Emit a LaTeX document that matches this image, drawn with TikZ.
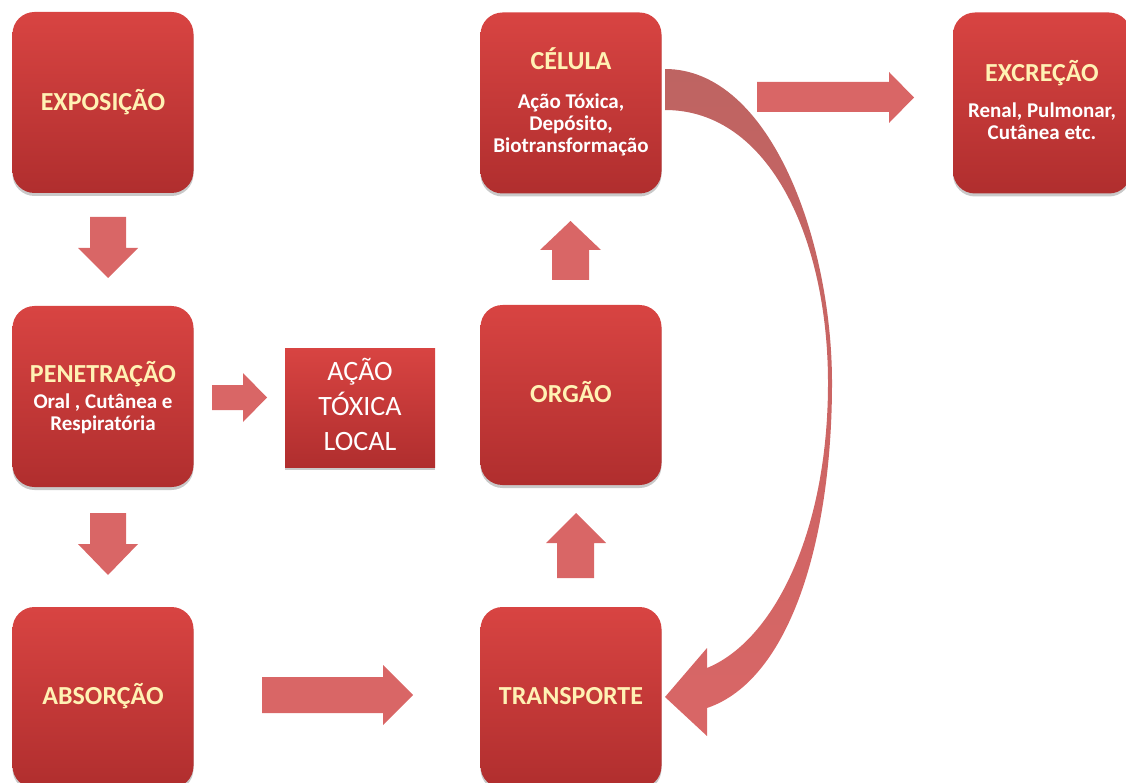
\documentclass[tikz,border=0pt]{standalone}
\usepackage{fontspec}
\setmainfont{Carlito}
\usetikzlibrary{shadows}
\definecolor{boxtop}{RGB}{216,68,66}
\definecolor{boxbot}{RGB}{176,46,46}
\definecolor{arrowred}{RGB}{217,102,102}
\definecolor{curvetop}{RGB}{190,100,98}
\definecolor{headyellow}{RGB}{255,242,180}
\begin{document}
\begin{tikzpicture}[x=1pt,y=-1pt,
  rbox/.style={rounded corners=22pt, minimum width=181pt, minimum height=181pt, inner sep=0pt,
    top color=boxtop, bottom color=boxbot,
    drop shadow={opacity=0.3, shadow xshift=0pt, shadow yshift=-3pt, fill=black!70}},
  sbox/.style={minimum width=150pt, minimum height=119pt, inner sep=0pt,
    top color=boxtop, bottom color=boxbot,
    drop shadow={opacity=0.3, shadow xshift=0pt, shadow yshift=-3pt, fill=black!70}},
  head/.style={font=\fontsize{26}{26}\selectfont\bfseries, text=headyellow, inner sep=0pt, anchor=base},
  subtxt/.style={font=\fontsize{21}{22}\selectfont\bfseries, text=white, inner sep=0pt, anchor=base, align=center},
  localtxt/.style={font=\fontsize{28}{35}\selectfont, text=white, inner sep=0pt, anchor=base, align=center},
  blockarrow/.style={fill=arrowred, draw=none},
  curvearrow/.style={top color=curvetop, bottom color=arrowred, draw=none}
]
\useasboundingbox (0,0) rectangle (1126,783);

% boxes
\node[rbox] (expo) at (103,102.5) {};
\node[rbox] (pene) at (103,396.5) {};
\node[rbox] (abso) at (103,697.5) {};
\node[rbox] (celu) at (571,103) {};
\node[rbox, minimum height=180pt] (orga) at (571,395) {};
\node[rbox] (tran) at (571,697.5) {};
\node[rbox, minimum width=178pt] (excr) at (1042,103) {};
\node[sbox] (acao) at (360,407.5) {};

% texts (multi-line nodes: base = baseline of last line)
\node[head] (expo-t) at (103,111) {EXPOSIÇÃO};
\node[head] (pene-t) at (103,382) {PENETRAÇÃO};
\node[subtxt] (pene-s) at (103,430) {Oral , Cutânea e\\Respiratória};
\node[head] (abso-t) at (103,704) {ABSORÇÃO};
\node[head] (celu-t) at (571,70) {CÉLULA};
\node[subtxt] (celu-s) at (571,153) {Ação Tóxica,\\Depósito,\\Biotransformação};
\node[head] (orga-t) at (571,402) {ORGÃO};
\node[head] (tran-t) at (571,704) {TRANSPORTE};
\node[head] (excr-t) at (1042,82) {EXCREÇÃO};
\node[subtxt] (excr-s) at (1042,140) {Renal, Pulmonar,\\Cutânea etc.};
\node[localtxt] (acao-t) at (360,450) {AÇÃO\\TÓXICA\\LOCAL};

% block arrows
\fill[blockarrow] (90,217) -- (126,217) -- (126,248) -- (138,248) -- (108,278) -- (78,248) -- (90,248) -- cycle;
\fill[blockarrow] (90,513) -- (126,513) -- (126,544) -- (138,544) -- (108,575) -- (78,544) -- (90,544) -- cycle;
\fill[blockarrow] (212,385) -- (243,385) -- (243,373) -- (267,397.5) -- (243,422) -- (243,410) -- (212,410) -- cycle;
\fill[blockarrow] (262,677) -- (383,677) -- (383,665) -- (413,695) -- (383,725) -- (383,713) -- (262,713) -- cycle;
\fill[blockarrow] (557,578) -- (557,543) -- (546,543) -- (576,513) -- (606,543) -- (594,543) -- (594,578) -- cycle;
\fill[blockarrow] (552,280) -- (552,250) -- (540,250) -- (570.5,221) -- (601,250) -- (589,250) -- (589,280) -- cycle;
\fill[blockarrow] (757,82) -- (889,82) -- (889,72) -- (914,97.5) -- (889,123) -- (889,112) -- (757,112) -- cycle;

% curved arrow
\shade[curvearrow] (665,69) .. controls (770,69) and (832,240) .. (832,383)
  .. controls (832,540) and (790,680) .. (707,708) -- (707,736) -- (665,697) -- (707,648) -- (707,668)
  .. controls (775,640) and (828,530) .. (828,383)
  .. controls (828,240) and (770,110) .. (665,110) -- cycle;
\end{tikzpicture}
\end{document}
